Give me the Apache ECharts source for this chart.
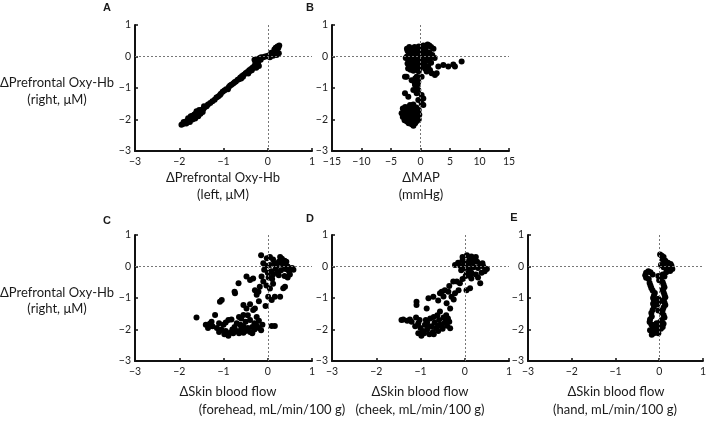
<!DOCTYPE html>
<html><head><meta charset="utf-8">
<script src="https://cdn.jsdelivr.net/npm/echarts@6/dist/echarts.min.js"></script>
<style>html,body{margin:0;padding:0;background:#fff}#c{width:709px;height:421px}</style>
</head><body><div id="c"></div>
<script>
// Panel A: ΔPrefrontal Oxy-Hb left (x) vs right (y)
const dataA = [[-1.95,-2.17],[-1.92,-2.14],[-1.88,-2.12],[-1.85,-2.06],[-1.82,-2.08],[-1.80,-2.02],[-1.78,-2.05],[-1.75,-1.98],[-1.72,-1.96],[-1.70,-2.00],[-1.68,-1.90],[-1.66,-1.93],[-1.63,-1.85],[-1.62,-1.80],[-1.60,-1.88],[-1.58,-1.78],[-1.56,-1.82],[-1.53,-1.75],[-1.50,-1.72],[-1.48,-1.68],[-1.45,-1.66],[-1.42,-1.60],[-1.38,-1.58],[-1.30,-1.48],[-1.25,-1.42],[-1.20,-1.37],[-1.12,-1.27],[-1.06,-1.18],[-1.02,-1.12],[-0.98,-1.08],[-0.94,-1.04],[-0.88,-0.97],[-0.82,-0.90],[-0.78,-0.86],[-0.72,-0.79],[-0.68,-0.74],[-0.62,-0.67],[-0.58,-0.62],[-0.54,-0.58],[-0.50,-0.53],[-0.46,-0.49],[-0.42,-0.44],[-0.38,-0.40],[-0.34,-0.35],[-0.30,-0.30],[-0.27,-0.25],[-0.25,-0.20],[-0.22,-0.16],[-0.20,-0.12],[-0.24,-0.08],[-0.18,-0.05],[-0.15,-0.02],[-0.10,-0.02],[-0.06,0.00],[-0.02,0.01],[0.02,0.03],[0.06,0.02],[0.10,0.05],[0.12,0.10],[0.15,0.08],[0.18,0.15],[0.20,0.20],[0.22,0.12],[0.24,0.28],[0.26,0.35],[0.15,0.22],[0.20,0.05],[0.25,0.10],
 [-1.90,-2.08],[-1.84,-2.13],[-1.76,-2.08],[-1.70,-1.88],[-1.64,-1.97],[-1.57,-1.90],[-1.52,-1.82],[-1.47,-1.76],[-1.44,-1.58],[-1.35,-1.52],[-1.16,-1.30],[-1.08,-1.22],[-0.90,-1.04],[-0.85,-0.92],[-0.75,-0.82],[-0.65,-0.72],[-0.56,-0.64],[-0.48,-0.52],[-0.40,-0.46],[-0.32,-0.36],[-0.28,-0.20],[-0.30,-0.10],[-0.26,-0.28],[-0.20,-0.30],[-0.16,-0.10],[0.05,-0.02],[0.08,0.12],[0.18,0.28],[0.22,0.32],[0.12,0.02],
 [-1.74,-1.90],[-1.61,-1.74],[-1.55,-1.70],[-1.66,-1.84],[-1.80,-1.96],[-0.60,-0.70],[-0.44,-0.54],[-0.36,-0.44],[-0.26,-0.36],[-0.22,-0.22]];
// Panel B: ΔMAP (x) vs ΔPrefrontal Oxy-Hb right (y)
const dataB = [[0.5,0.35],[1.2,0.38],[1.8,0.30],[2.2,0.25],[0.0,0.28],[-0.5,0.22],[-1.5,0.15],[-2.2,0.18],[-1.9,0.10],[-1.2,0.12],[-0.8,0.05],[-0.2,0.10],[0.3,0.15],[0.9,0.20],[1.5,0.12],[2.0,0.05],[-2.3,0.0],[-1.6,-0.03],[-1.0,-0.05],[-0.4,-0.02],[0.2,0.02],[0.8,-0.02],[1.6,-0.05],[-2.0,-0.12],[-1.4,-0.15],[-0.7,-0.12],[0.0,-0.10],[0.6,-0.15],[1.2,-0.12],[-1.8,-0.25],[-1.1,-0.22],[-0.5,-0.25],[0.1,-0.22],[1.8,-0.20],[-1.5,-0.35],[-0.9,-0.32],[-0.2,-0.38],[0.4,-0.30],[-1.2,-0.45],[-0.6,-0.42],[0.9,-0.40],[-1.9,0.30],[-1.0,0.30],[1.5,0.35],[-2.5,-0.05],[-2.1,-0.38],[2.4,-0.05],
 [-1.6,0.22],[-0.9,0.20],[-0.3,0.32],[0.7,0.28],[-2.0,0.05],[-1.4,0.02],[-0.5,0.08],[0.4,0.05],[1.0,0.08],[-1.7,-0.12],[-1.0,-0.15],[-0.3,-0.15],[0.4,-0.08],[-2.2,-0.22],[-1.4,-0.28],[-0.8,-0.22],[-0.1,-0.30],[0.7,-0.28],[-1.7,-0.42],[-0.3,-0.48],[1.3,-0.30],[-2.3,0.25],[1.0,0.32],
 [1.04,-0.48],[1.61,-0.43],[1.89,-0.53],[2.45,-0.59],[2.74,-0.53],[3.02,-0.32],[3.87,-0.27],[4.71,-0.32],[5.56,-0.25],[5.84,-0.32],[6.97,-0.16],[0.76,-0.38],[-2.63,-0.64],
 [-2.35,-0.64],[-1.50,-0.75],[-0.65,-0.64],[0.19,-0.64],[-0.37,-0.80],[-0.94,-0.90],[-0.65,-0.96],[-0.37,-1.06],[-1.22,-1.06],[-0.65,-1.17],[0.19,-1.22],[0.48,-1.33],[-2.63,-1.17],[-2.07,-1.28],[-0.37,-1.38],[0.19,-1.49],[-1.78,-1.54],[-1.22,-1.52],[0.48,-1.54],[-0.9,-0.70],[-0.5,-0.88],[-1.0,-0.82],
 [-3.0,-1.65],[-2.6,-1.60],[-2.2,-1.62],[-1.7,-1.60],[-1.2,-1.65],[-0.7,-1.62],[-0.3,-1.70],[-3.2,-1.80],[-2.8,-1.75],[-2.4,-1.78],[-2.0,-1.72],[-1.6,-1.76],[-1.0,-1.75],[-0.5,-1.80],[-0.2,-1.85],[-3.0,-1.92],[-2.6,-1.88],[-2.2,-1.95],[-1.8,-1.86],[-1.4,-1.90],[-0.9,-1.88],[-0.4,-1.95],[-2.7,-2.02],[-2.3,-2.06],[-1.9,-2.00],[-1.5,-2.05],[-1.1,-2.00],[-0.6,-2.05],[-2.0,-2.12],[-1.5,-2.15],[-1.2,-2.20],[-0.9,-2.12],[-2.5,-1.70],[-1.3,-1.82],[-0.8,-1.95],[-1.7,-1.95],[-2.9,-1.85],[-2.4,-1.98],[-0.3,-2.00]];
// Panel C: ΔSkin blood flow forehead (x)
const dataC = [[-0.15,0.36],[-0.02,0.26],[0.05,0.30],[0.12,0.22],[0.28,0.30],[0.32,0.25],[0.38,0.18],[0.25,0.15],[0.15,0.10],[0.05,0.05],[-0.05,0.02],[0.20,0.02],[0.35,0.05],[0.45,0.00],[0.55,-0.05],[0.58,-0.10],[0.48,-0.15],[0.40,-0.08],[0.30,-0.12],[0.18,-0.08],[0.08,-0.15],[0.00,-0.20],[0.12,-0.25],[0.25,-0.28],[0.38,-0.30],[0.45,-0.35],[0.02,-0.35],[-0.08,-0.10],[0.10,-0.40],[0.30,0.12],[0.42,0.15],[0.22,-0.18],[0.50,-0.25],[-0.10,0.10],
 [0.39,-0.64],[0.35,-0.69],[0.28,-0.96],[0.16,-0.96],[0.09,-1.06],[0.01,-0.96],[0.05,-0.70],[0.12,-0.55],[-0.03,-0.60],
 [-0.14,-0.32],[-0.10,-0.48],[-0.18,-0.64],[-0.21,-0.80],[-0.25,-0.90],[-0.29,-0.75],[-0.33,-0.38],[-0.48,-0.32],[-0.40,-0.43],[-0.66,-0.53],[-0.74,-0.85],[-0.75,-0.80],[-1.04,-1.06],[-1.08,-1.12],[-0.55,-1.22],[-0.48,-1.33],[-0.55,-1.54],[-0.33,-1.38],[-0.29,-1.33],[-0.20,-1.10],[-0.05,-1.25],[-0.40,-1.20],
 [-1.61,-1.62],[0.09,-1.89],[0.16,-1.89],
 [-1.19,-1.54],[-1.27,-1.75],[-1.31,-1.82],[-1.25,-1.90],[-1.15,-1.95],[-1.05,-2.00],[-0.95,-2.05],[-0.89,-2.20],[-0.85,-2.10],[-0.80,-2.00],[-0.75,-1.92],[-0.70,-2.05],[-0.65,-2.12],[-0.60,-1.98],[-0.55,-1.90],[-0.50,-2.05],[-0.45,-1.95],[-0.40,-2.08],[-0.35,-1.92],[-0.30,-2.00],[-0.25,-1.88],[-0.20,-1.95],[-0.15,-2.02],[-0.12,-1.85],[-0.89,-1.70],[-0.82,-1.68],[-0.60,-1.65],[-0.50,-1.75],[-0.40,-1.70],[-0.30,-1.80],[-0.20,-1.72],[-1.00,-1.85],[-0.95,-1.78],[-0.70,-1.80],[-1.10,-2.08],[-0.98,-2.15],[-0.78,-2.12],[-0.55,-2.10],[-0.35,-2.12],[-1.40,-1.85],[-1.35,-1.95],[-0.65,-1.60],[-0.45,-1.55],[-0.25,-1.60],[-1.10,-1.80],[-0.62,-1.85]];
// Panel D: ΔSkin blood flow cheek (x)
const dataD = [[-0.05,0.30],[0.05,0.36],[0.15,0.32],[0.20,0.25],[0.10,0.20],[-0.15,0.12],[-0.22,0.05],[-0.10,0.02],[0.00,0.10],[0.08,0.05],[0.18,0.12],[0.28,0.15],[0.35,0.05],[0.42,0.00],[0.50,-0.08],[0.45,-0.15],[0.30,-0.05],[0.20,-0.02],[0.10,-0.10],[0.00,-0.05],[-0.08,-0.12],[0.05,-0.22],[0.15,-0.20],[0.25,-0.25],[0.38,-0.20],[0.30,-0.35],[0.15,-0.38],[0.02,-0.30],[-0.05,0.20],[0.25,0.30],[0.40,0.10],[0.12,-0.30],
 [0.35,-0.53],[0.12,-0.69],[0.04,-0.75],
 [-0.11,-0.53],[-0.18,-0.48],[-0.26,-0.48],[-0.14,-0.75],[-0.22,-0.85],[-0.30,-0.96],[-0.37,-0.80],[-0.45,-0.75],[-0.52,-0.80],[-0.56,-0.85],[-0.71,-0.96],[-0.82,-1.01],[-1.09,-1.12],[-1.09,-1.22],[-0.86,-1.33],[-0.56,-1.43],[-0.33,-1.33],[-0.41,-1.17],[-0.25,-1.05],[-0.35,-0.62],[-0.05,-0.40],[-0.48,-0.95],[-0.60,-1.08],
 [-1.43,-1.70],[-1.39,-1.68],[-1.24,-1.68],[-1.20,-1.75],[-1.30,-1.72],
 [-1.10,-1.62],[-1.05,-1.80],[-1.12,-1.90],[-1.00,-1.95],[-0.95,-2.05],[-1.05,-2.12],[-0.98,-2.20],[-0.90,-1.85],[-0.85,-2.00],[-0.80,-2.15],[-0.75,-1.90],[-0.72,-2.08],[-0.68,-1.78],[-0.65,-1.95],[-0.60,-2.05],[-0.58,-1.70],[-0.55,-1.85],[-0.50,-1.98],[-0.48,-1.62],[-0.45,-1.78],[-0.40,-1.88],[-0.35,-1.75],[-0.33,-1.96],[-0.88,-1.70],[-0.78,-1.65],[-0.70,-1.60],[-0.62,-1.55],[-0.92,-2.12],[-0.70,-2.15],[-0.52,-1.90],[-0.85,-1.78],[-1.02,-1.70],[-0.42,-1.55],[-0.38,-1.65],[-0.60,-1.88],[-0.82,-1.92]];
// Panel E: ΔSkin blood flow hand (x)
const dataE = [[0.02,0.38],[0.06,0.34],[0.10,0.30],[0.08,0.22],[0.14,0.18],[0.20,0.12],[0.26,0.08],[0.28,0.02],[0.22,-0.02],[0.30,-0.08],[0.25,-0.14],[0.18,-0.08],[0.10,-0.02],[0.04,0.05],[0.12,0.10],[0.16,-0.18],[0.08,-0.25],[0.12,-0.32],[0.04,-0.38],[-0.02,-0.30],[0.00,-0.44],
 [-0.30,-0.20],[-0.25,-0.15],[-0.20,-0.18],[-0.32,-0.28],[-0.30,-0.36],[-0.24,-0.40],[-0.15,-0.25],
 [-0.22,-0.52],[-0.20,-0.60],[-0.18,-0.68],[-0.15,-0.76],[-0.10,-0.84],[-0.12,-0.92],[-0.14,-1.00],[-0.12,-1.08],[-0.14,-1.18],[-0.12,-1.28],[-0.15,-1.38],[-0.18,-1.48],
 [0.08,-0.50],[0.10,-0.58],[0.12,-0.66],[0.08,-0.74],[0.10,-0.82],[0.12,-0.90],[0.14,-0.98],[0.10,-1.06],[0.12,-1.14],[0.14,-1.22],[0.10,-1.30],[0.08,-1.38],[0.06,-1.46],[0.10,-1.54],
 [-0.02,-1.02],[-0.04,-1.20],[-0.02,-1.40],[0.00,-1.12],
 [-0.17,-1.59],[-0.21,-1.68],[-0.22,-1.76],[-0.18,-1.84],[-0.13,-1.86],[-0.06,-1.80],[0.02,-1.76],[0.06,-1.70],[0.10,-1.82],[0.08,-1.92],[0.04,-1.98],[-0.04,-2.00],[-0.09,-2.07],[-0.17,-2.17],[-0.12,-2.12],[-0.02,-2.12],[-0.21,-2.02],[-0.10,-1.95],[0.00,-1.90],[-0.15,-1.95],[0.12,-1.62]];

const panelLetters = ['A','B','C','D','E'];
const yTitle = ['ΔPrefrontal Oxy-Hb','(right, μM)'];
const xTitles = [
  ['ΔPrefrontal Oxy-Hb','(left, μM)'],
  ['ΔMAP','(mmHg)'],
  ['ΔSkin blood flow','(forehead, mL/min/100 g)'],
  ['ΔSkin blood flow','(cheek, mL/min/100 g)'],
  ['ΔSkin blood flow','(hand, mL/min/100 g)']
];
const xRanges = [[-3,1,1],[-15,15,5],[-3,1,1],[-3,1,1],[-3,1,1]];
const yRange = [-3,1,1];
const datasets = [dataA,dataB,dataC,dataD,dataE];

const grids = [
  {left:135,top:25},{left:332,top:25},{left:135,top:235},{left:332,top:235},{left:528,top:235}
].map(g=>({left:g.left,top:g.top,width:177,height:126}));

const fmt = v => v < 0 ? '\u2212' + Math.abs(v) : String(v);
const axisCommon = {
  axisLine:{onZero:false,lineStyle:{color:'#111',width:2}},
  axisTick:{inside:true,length:3,lineStyle:{color:'#111',width:1.5}},
  splitLine:{show:false},
  axisLabel:{color:'#222',fontSize:10.5,fontFamily:'Lato',formatter:fmt}
};
const xAxes = xRanges.map((r,i)=>Object.assign({},axisCommon,{gridIndex:i,type:'value',min:r[0],max:r[1],interval:r[2],
  axisLabel:Object.assign({},axisCommon.axisLabel,{margin:5})}));
const yAxes = grids.map((g,i)=>Object.assign({},axisCommon,{gridIndex:i,type:'value',min:yRange[0],max:yRange[1],interval:yRange[2],
  axisLabel:Object.assign({},axisCommon.axisLabel,{margin:4})}));

const series = datasets.map((d,i)=>({
  type:'scatter',xAxisIndex:i,yAxisIndex:i,data:d,symbol:'circle',symbolSize:6,
  itemStyle:{color:'#000',opacity:1},silent:true,
  markLine:{silent:true,symbol:['none','none'],label:{show:false},animation:false,
    lineStyle:{type:[2,2],color:'#777',width:1},
    data:[{xAxis:0},{yAxis:0}]}
}));

function txt(t,x,y,font,align){
  return {type:'text',x:x,y:y,silent:true,style:{text:t,font:font,fill:'#1a1a1a',textAlign:align||'center',textVerticalAlign:'middle',align:align||'center',verticalAlign:'middle'}};
}
const titleFont = '13px Lato';
const g = [];
const letterPos = [[107,8],[310,8],[107,221],[310,219],[514,218]];
panelLetters.forEach((l,i)=>g.push(txt(l,letterPos[i][0],letterPos[i][1],'bold 11px "Liberation Sans"')));
[[83,100],[293,309]].forEach(p=>{g.push(txt(yTitle[0],57,p[0],titleFont));g.push(txt(yTitle[1],57,p[1],titleFont));});
const xTitlePos = [[[223,178],[223,195]],[[421,178],[421,195]],[[228,392],[272,410]],[[420,392],[420,410]],[[616,392],[615,410]]];
xTitles.forEach((t,i)=>{g.push(txt(t[0],xTitlePos[i][0][0],xTitlePos[i][0][1],titleFont));g.push(txt(t[1],xTitlePos[i][1][0],xTitlePos[i][1][1],titleFont));});

const chart = echarts.init(document.getElementById('c'),null,{renderer:'canvas'});
chart.setOption({animation:false,grid:grids,xAxis:xAxes,yAxis:yAxes,series:series,graphic:g});
</script></body></html>
